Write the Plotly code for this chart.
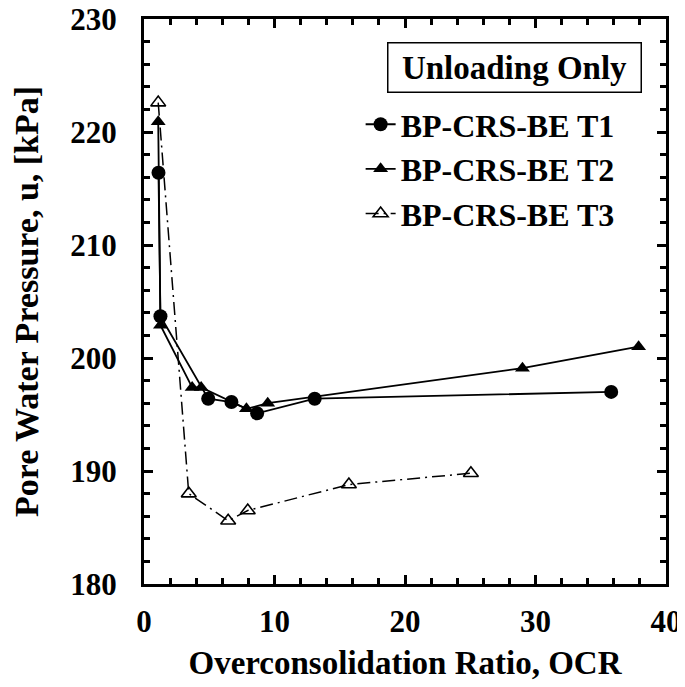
import plotly.graph_objects as go

# Data
t1_ocr = [1.11, 1.26, 4.92, 6.70, 8.67, 13.08, 35.8]
t1_u = [216.4, 203.7, 196.4, 196.1, 195.1, 196.4, 197.0]

t2_ocr = [1.09, 1.26, 3.69, 4.38, 7.85, 9.48, 29.0, 37.9]
t2_u = [220.9, 202.9, 197.4, 197.4, 195.5, 196.0, 199.1, 201.0]

t3_ocr = [1.09, 3.43, 6.45, 7.95, 15.7, 25.05]
t3_u = [222.6, 188.0, 185.6, 186.5, 188.8, 189.8]

names = ["BP-CRS-BE T1", "BP-CRS-BE T2", "BP-CRS-BE T3"]
x_ticks = [0, 10, 20, 30, 40]
y_ticks = [180, 190, 200, 210, 220, 230]

FONT = "Liberation Serif, Times New Roman, serif"

fig = go.Figure()
fig.add_trace(go.Scatter(
    x=t1_ocr, y=t1_u, name="<b>" + names[0] + "</b>", mode="lines+markers",
    line=dict(color="black", width=1.8),
    marker=dict(symbol="circle", size=14, color="black")))
fig.add_trace(go.Scatter(
    x=t2_ocr, y=t2_u, name="<b>" + names[1] + "</b>", mode="lines+markers",
    line=dict(color="black", width=1.8),
    marker=dict(symbol="triangle-up", size=13, color="black")))
fig.add_trace(go.Scatter(
    x=t3_ocr, y=t3_u, name="<b>" + names[2] + "</b>", mode="lines+markers",
    line=dict(color="black", width=1.5, dash="13px,5px,2px,5px"),
    marker=dict(symbol="triangle-up-open", size=13, color="black",
                line=dict(width=1.6, color="black"))))

axis_common = dict(
    showline=True, linecolor="black", linewidth=3, mirror="allticks",
    ticks="inside", ticklen=9, tickwidth=2.5, tickcolor="black",
    showgrid=False, zeroline=False, automargin=False,
    ticklabeloverflow="allow",
    tickfont=dict(family=FONT, size=31, color="black"),
    minor=dict(ticks="inside", ticklen=6, tickwidth=2.5, tickcolor="black",
               dtick=2, showgrid=False),
)

fig.update_xaxes(
    range=[0, 40], tickvals=x_ticks, ticktext=["<b>%d</b>" % v for v in x_ticks],
    ticklabelstandoff=8,
    title=dict(text="<b>Overconsolidation Ratio, OCR</b>", standoff=13,
               font=dict(family=FONT, size=33, color="black")),
    **axis_common)
fig.update_yaxes(
    range=[180, 230], tickvals=y_ticks, ticktext=["<b>%d</b>" % v for v in y_ticks],
    ticklabelstandoff=18,
    title=dict(text="<b>Pore Water Pressure, u, [kPa]</b>", standoff=24,
               font=dict(family=FONT, size=34, color="black")),
    **axis_common)

fig.add_annotation(
    x=0.709, y=0.9148, xref="paper", yref="paper",
    xanchor="center", yanchor="middle",
    text="<b>Unloading Only</b>", showarrow=False,
    font=dict(family=FONT, size=33, color="black"),
    bordercolor="black", borderwidth=1.5, borderpad=3,
    width=246, height=42, bgcolor="white")

fig.update_layout(
    width=677, height=679,
    margin=dict(l=135.5, r=19, t=10.5, b=103),
    paper_bgcolor="white", plot_bgcolor="white",
    showlegend=True,
    legend=dict(
        x=0.415, y=0.862, xanchor="left", yanchor="top",
        bgcolor="rgba(0,0,0,0)", borderwidth=0,
        font=dict(family=FONT, size=32, color="black"),
        itemwidth=30, tracegroupgap=0),
)

fig.write_html("out.html")
